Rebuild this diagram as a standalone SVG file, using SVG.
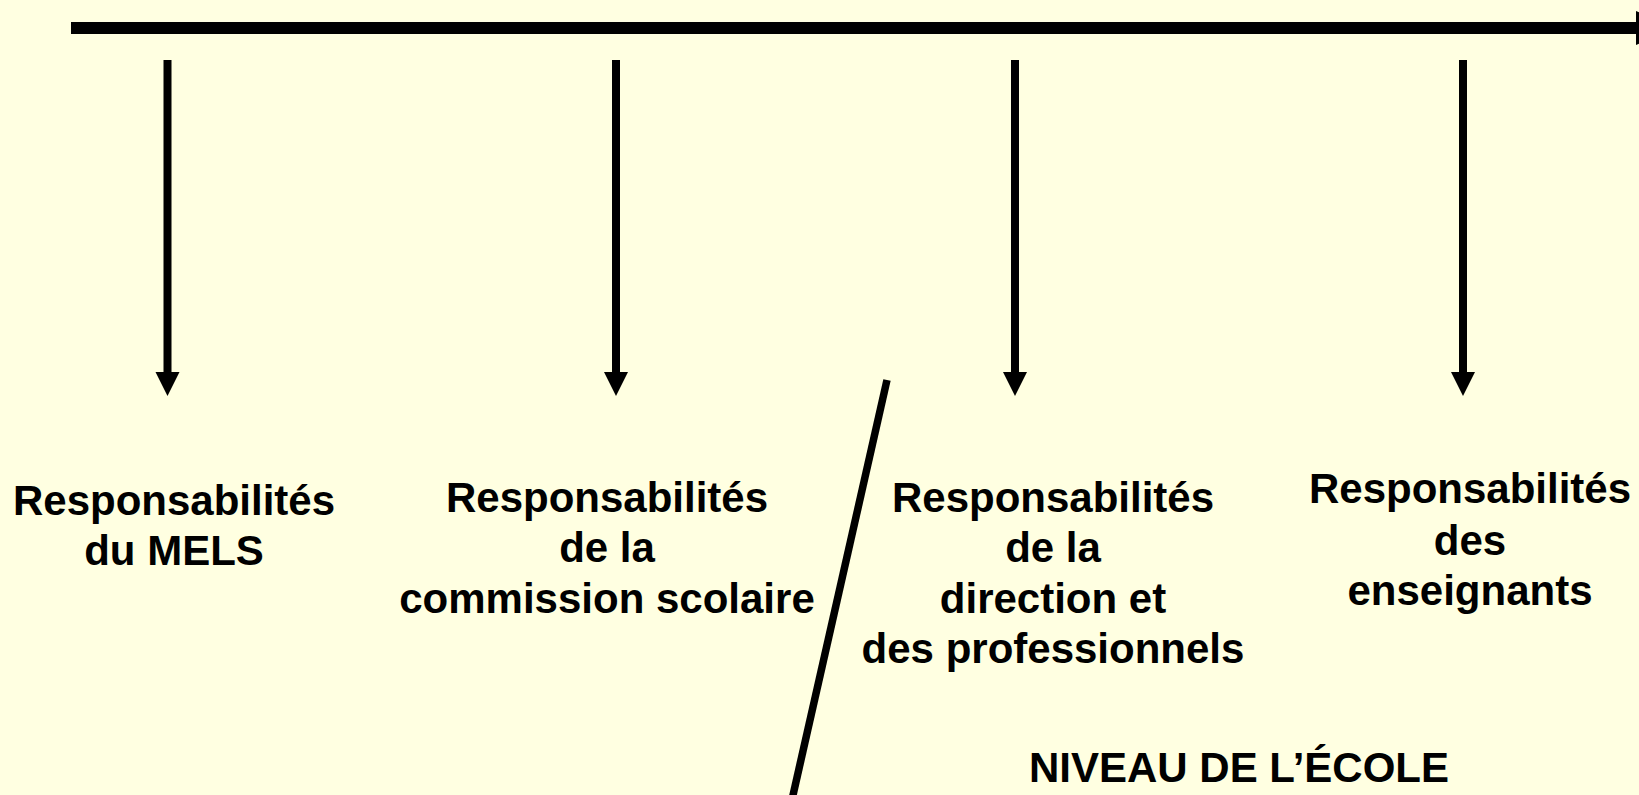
<svg xmlns="http://www.w3.org/2000/svg" width="1639" height="795" viewBox="0 0 1639 795">
<defs>
<style>
.lbl{font-family:"Liberation Sans",Arial,sans-serif;font-weight:bold;font-size:42px;fill:#000;text-anchor:middle}
.shaft{stroke:#000;stroke-width:8;fill:none}
.head{fill:#000}
</style>
</defs>
<rect width="1639" height="795" fill="#FFFFE1"/>
<g id="connectors">
<line x1="71" y1="28" x2="1640" y2="28" stroke="#000" stroke-width="12"/>
<polygon class="head" points="1636,11 1636,45 1680,28"/>
<line class="shaft" x1="167.5" y1="60" x2="167.5" y2="374"/>
<polygon class="head" points="155.5,372 179.5,372 167.5,396"/>
<line class="shaft" x1="616" y1="60" x2="616" y2="374"/>
<polygon class="head" points="604,372 628,372 616,396"/>
<line class="shaft" x1="1015" y1="60" x2="1015" y2="374"/>
<polygon class="head" points="1003,372 1027,372 1015,396"/>
<line class="shaft" x1="1463" y1="60" x2="1463" y2="374"/>
<polygon class="head" points="1451,372 1475,372 1463,396"/>
<line x1="887" y1="380" x2="791" y2="804" stroke="#000" stroke-width="7.5"/>
</g>
<g id="node-mels">
<text class="lbl" x="174" y="515">Responsabilités</text>
<text class="lbl" x="174" y="565">du MELS</text>
</g>
<g id="node-commission">
<text class="lbl" x="607" y="512">Responsabilités</text>
<text class="lbl" x="607" y="562">de la</text>
<text class="lbl" x="607" y="613">commission scolaire</text>
</g>
<g id="node-direction">
<text class="lbl" x="1053" y="512">Responsabilités</text>
<text class="lbl" x="1053" y="562">de la</text>
<text class="lbl" x="1053" y="613">direction et</text>
<text class="lbl" x="1053" y="663">des professionnels</text>
</g>
<g id="node-enseignants">
<text class="lbl" x="1470" y="503">Responsabilités</text>
<text class="lbl" x="1470" y="555">des</text>
<text class="lbl" x="1470" y="605">enseignants</text>
</g>
<g id="label-ecole">
<text class="lbl" x="1239" y="782">NIVEAU DE L’ÉCOLE</text>
</g>
</svg>
